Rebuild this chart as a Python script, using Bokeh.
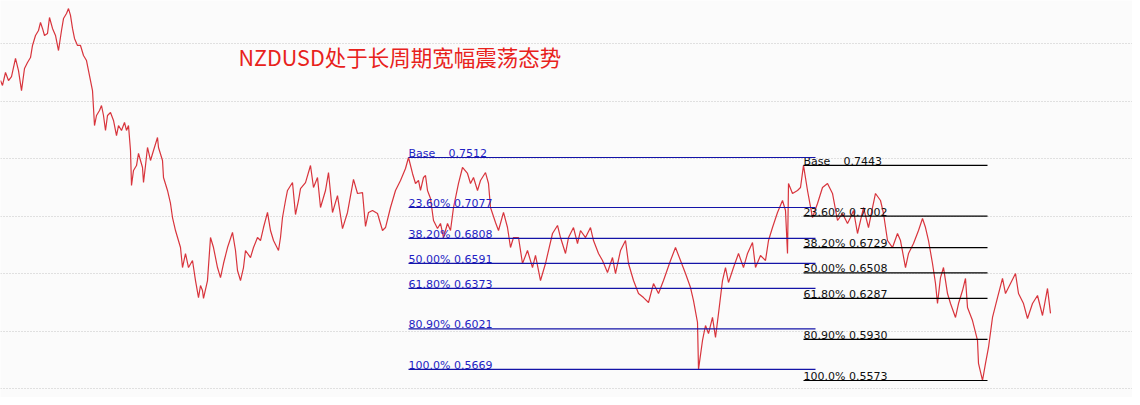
from bokeh.plotting import figure
from bokeh.models import Range1d, FixedTicker, Label, ColumnDataSource
from bokeh.core.properties import value
from bokeh.embed import file_html
from bokeh.resources import INLINE

# ---- data ----
day = [0, 2, 5, 8, 11, 15, 18, 21, 24, 27, 30, 32, 35, 38, 40, 42, 44, 47, 49, 52,
       55, 58, 61, 63, 66, 68, 70, 72, 74, 77, 80, 83, 86, 88, 90, 92, 94, 96, 99, 101,
       103, 105, 107, 110, 113, 116, 118, 121, 124, 126, 128, 130, 131, 133, 136, 138, 140, 142, 143, 145,
       147, 150, 153, 157, 158, 162, 163, 167, 170, 172, 175, 180, 182, 185, 188, 192, 195, 198, 200, 202,
       203, 207, 210, 213, 217, 220, 223, 227, 232, 235, 237, 240, 243, 245, 250, 253, 257, 260, 263, 267,
       270, 273, 278, 280, 282, 285, 287, 292, 295, 298, 300, 305, 310, 313, 317, 320, 325, 328, 332, 337,
       342, 347, 353, 357, 362, 365, 368, 372, 377, 382, 385, 390, 395, 400, 405, 408, 412, 415, 418, 420,
       423, 425, 427, 430, 433, 437, 440, 443, 447, 450, 453, 458, 462, 467, 470, 473, 477, 480, 485, 488,
       490, 495, 498, 503, 507, 510, 513, 518, 522, 527, 532, 535, 540, 545, 548, 552, 557, 560, 565, 568,
       573, 577, 580, 585, 590, 593, 598, 602, 607, 612, 615, 620, 625, 628, 633, 638, 643, 648, 653, 658,
       663, 670, 675, 680, 685, 690, 693, 697, 698, 702, 705, 708, 712, 715, 718, 722, 725, 728, 733, 738,
       743, 747, 752, 755, 760, 765, 768, 772, 777, 782, 785, 787, 788, 792, 797, 800, 803, 807, 812, 817,
       822, 827, 832, 837, 842, 847, 850, 853, 857, 863, 868, 872, 875, 880, 883, 887, 892, 897, 900, 905,
       908, 913, 918, 922, 925, 928, 932, 935, 937, 940, 943, 947, 950, 955, 958, 962, 965, 967, 972, 977,
       978, 982, 985, 988, 992, 997, 1002, 1005, 1010, 1015, 1018, 1023, 1027, 1032, 1037, 1042, 1047, 1050]

close = [0.8181, 0.8138, 0.8251, 0.8181, 0.8216, 0.8373, 0.8268, 0.8094, 0.8286, 0.8338,
         0.8381, 0.8486, 0.8573, 0.8616, 0.8686, 0.8634, 0.8573, 0.8590, 0.8729, 0.8634,
         0.8573, 0.8442, 0.8616, 0.8720, 0.8764, 0.8807, 0.8747, 0.8634, 0.8547, 0.8486,
         0.8486, 0.8399, 0.8355, 0.8268, 0.8181, 0.8094, 0.7790, 0.7877, 0.7920, 0.7964,
         0.7877, 0.7747, 0.7877, 0.7903, 0.7834, 0.7703, 0.7790, 0.7747, 0.7816, 0.7747,
         0.7790, 0.7573, 0.7268, 0.7399, 0.7442, 0.7547, 0.7486, 0.7425, 0.7294, 0.7442,
         0.7599, 0.7486, 0.7573, 0.7686, 0.7599, 0.7486, 0.7338, 0.7225, 0.7112, 0.6990,
         0.6877, 0.6729, 0.6555, 0.6677, 0.6555, 0.6616, 0.6442, 0.6294, 0.6399, 0.6355,
         0.6286, 0.6442, 0.6816, 0.6729, 0.6555, 0.6468, 0.6590, 0.6729, 0.6860, 0.6703,
         0.6529, 0.6442, 0.6555, 0.6703, 0.6642, 0.6729, 0.6816, 0.6790, 0.6903, 0.7034,
         0.6877, 0.6790, 0.6703, 0.6816, 0.6990, 0.7138, 0.7225, 0.7294, 0.7016, 0.7138,
         0.7242, 0.7294, 0.7442, 0.7251, 0.7338, 0.7077, 0.7225, 0.7381, 0.7034, 0.7181,
         0.6894, 0.7034, 0.7321, 0.7199, 0.7207, 0.6912, 0.7034, 0.7051, 0.7025, 0.6877,
         0.6903, 0.7077, 0.7225, 0.7312, 0.7416, 0.7512, 0.7373, 0.7286, 0.7312, 0.7225,
         0.7338, 0.7355, 0.7225, 0.7155, 0.6964, 0.6894, 0.6938, 0.6816, 0.6938, 0.6877,
         0.7077, 0.7286, 0.7425, 0.7373, 0.7286, 0.7338, 0.7225, 0.7312, 0.7381, 0.7286,
         0.7077, 0.6947, 0.6877, 0.7034, 0.6903, 0.6729, 0.6816, 0.6816, 0.6590, 0.6703,
         0.6555, 0.6660, 0.6442, 0.6590, 0.6703, 0.6851, 0.6921, 0.6816, 0.6677, 0.6816,
         0.6903, 0.6764, 0.6877, 0.6816, 0.6903, 0.6790, 0.6677, 0.6616, 0.6512, 0.6642,
         0.6503, 0.6703, 0.6790, 0.6590, 0.6442, 0.6329, 0.6294, 0.6251, 0.6416, 0.6329,
         0.6442, 0.6616, 0.6729, 0.6616, 0.6503, 0.6381, 0.6268, 0.6077, 0.5669, 0.5921,
         0.6051, 0.5981, 0.6121, 0.5947, 0.6155, 0.6442, 0.6555, 0.6425, 0.6555, 0.6677,
         0.6555, 0.6677, 0.6773, 0.6555, 0.6660, 0.6616, 0.6790, 0.6903, 0.7034, 0.7138,
         0.7051, 0.6677, 0.7286, 0.7199, 0.7225, 0.7251, 0.7443, 0.7225, 0.6990, 0.7112,
         0.7251, 0.7286, 0.7199, 0.6964, 0.7025, 0.6938, 0.6990, 0.7051, 0.6851, 0.7077,
         0.6903, 0.7077, 0.7199, 0.7138, 0.7025, 0.6790, 0.6729, 0.6851, 0.6790, 0.6555,
         0.6677, 0.6764, 0.6877, 0.6981, 0.6903, 0.6790, 0.6590, 0.6416, 0.6242, 0.6468,
         0.6555, 0.6329, 0.6242, 0.6121, 0.6242, 0.6355, 0.6460, 0.6207, 0.6094, 0.5921,
         0.5721, 0.5573, 0.5721, 0.5860, 0.6121, 0.6294, 0.6460, 0.6329, 0.6416, 0.6503,
         0.6329, 0.6242, 0.6112, 0.6242, 0.6312, 0.6138, 0.6373, 0.6156]

fib_names = ["Base", "23.60%", "38.20%", "50.00%", "61.80%", "80.90%", "100.0%"]
fib1_values = [0.7512, 0.7077, 0.6808, 0.6591, 0.6373, 0.6021, 0.5669]
fib2_values = [0.7443, 0.7002, 0.6729, 0.6508, 0.6287, 0.5930, 0.5573]
fib1_span = (408, 815)
fib2_span = (803, 987)
grid_levels = [0.55, 0.60, 0.65, 0.70, 0.75, 0.80, 0.85]
title_text = "NZDUSD处于长周期宽幅震荡态势"

# ---- figure ----
BG = "#fbfbfb"
p = figure(width=1132, height=397, output_backend="svg", toolbar_location=None,
           x_range=Range1d(0, 1132), y_range=Range1d(0.5425, 0.8877),
           min_border=0, background_fill_color=BG, border_fill_color=BG)
p.axis.visible = False
p.outline_line_color = None
p.xgrid.visible = False
p.ygrid.ticker = FixedTicker(ticks=grid_levels)
p.ygrid.grid_line_color = "#c4c4c4"
p.ygrid.grid_line_dash = "1 2"
p.ygrid.grid_line_width = 1

p.line(day, close, line_color="#d8343c", line_width=1.2)

FONT = value("DejaVu Sans")
FS = "11px"

def fib_set(values, span, line_color, text_color):
    x0, x1 = span
    src = ColumnDataSource(dict(
        x0=[x0] * len(values), x1=[x1] * len(values), y=values,
    ))
    pct = ColumnDataSource(dict(
        x=[x0] * (len(values) - 1), y=values[1:],
        lab=[n + " " + ("%.4f" % v) for n, v in zip(fib_names[1:], values[1:])],
    ))
    p.text(x="x", y="y", text="lab", source=pct, text_color=text_color,
           text_font=FONT, text_font_size=FS,
           text_baseline="alphabetic", text_align="left", y_offset=-4)
    p.text(x=[x0], y=[values[0]], text=[fib_names[0]], text_color=text_color,
           text_font=FONT, text_font_size=FS,
           text_baseline="alphabetic", text_align="left", y_offset=-4)
    p.text(x=[x0], y=[values[0]], text=["%.4f" % values[0]], text_color=text_color,
           text_font=FONT, text_font_size=FS,
           text_baseline="alphabetic", text_align="left", y_offset=-4, x_offset=40)
    p.segment(x0="x0", y0="y", x1="x1", y1="y", source=src,
              line_color=line_color, line_width=1.2)

fib_set(fib2_values, fib2_span, "#000000", "#111111")
fib_set(fib1_values, fib1_span, "#1414a8", "#1f1fc4")

p.add_layout(Label(x=238, y=341, x_units="screen", y_units="screen",
                   text=title_text, text_color="#e8221c",
                   text_font="Noto Sans CJK SC", text_font_size="21.5px",
                   text_baseline="middle", text_align="left"))

open("out.html", "w").write(file_html(p, INLINE))
